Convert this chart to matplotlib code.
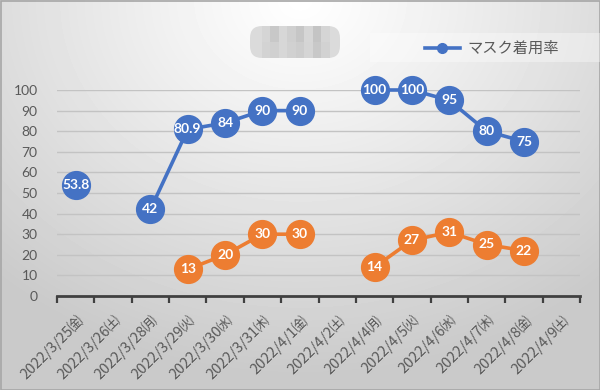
import numpy as np
import matplotlib
matplotlib.use("Agg")
import matplotlib.pyplot as plt
from matplotlib.lines import Line2D
from matplotlib.patches import Rectangle, FancyBboxPatch

plt.rcParams['font.family'] = ['Noto Sans CJK JP', 'DejaVu Sans']

# data
dates = ['2022/3/25㈮', '2022/3/26㈯', '2022/3/28㈪', '2022/3/29㈫', '2022/3/30㈬',
         '2022/3/31㈭', '2022/4/1㈮', '2022/4/2㈯', '2022/4/4㈪', '2022/4/5㈫',
         '2022/4/6㈬', '2022/4/7㈭', '2022/4/8㈮', '2022/4/9㈯']
mask_rate = [53.8, np.nan, 42, 80.9, 84, 90, 90, np.nan, 100, 100, 95, 80, 75, np.nan]
other_rate = [np.nan, np.nan, np.nan, 13, 20, 30, 30, np.nan, 14, 27, 31, 25, 22, np.nan]
yticks = [0, 10, 20, 30, 40, 50, 60, 70, 80, 90, 100]

blue = '#4472C4'
orange = '#ED7D31'
grey_txt = '#595959'

fig = plt.figure(figsize=(6, 3.9), dpi=100)

# gradient background (white top centre, grey edges)
bg = fig.add_axes([0, 0, 1, 1], zorder=-10)
yy, xx = np.mgrid[0:390, 0:600]
d = np.sqrt(((xx - 300) / 430.0) ** 2 + (yy / 360.0) ** 2)
v = np.clip(1 - 0.2 * d ** 1.1, 0.79, 1)
bg.imshow(v, cmap='gray', vmin=0, vmax=1, aspect='auto', extent=[0, 600, 390, 0])
bg.add_patch(Rectangle((0.5, 0.5), 599, 389, fill=False, ec='#a6a6a6', lw=1.2))
# lighter band behind the legend
bg.add_patch(Rectangle((370, 33), 230, 29, fc='white', alpha=0.35, lw=0))

# pixelated title
mosaic = np.array([[0.86, 0.60, 0.90, 0.74, 0.58, 0.88, 0.52, 0.86],
                   [0.82, 0.76, 0.90, 0.78, 0.70, 0.86, 0.60, 0.80]])
bg.add_patch(FancyBboxPatch((250, 26), 90, 32, boxstyle='round,pad=0,rounding_size=12',
                            fc='#d4d4d4', ec='none', alpha=0.8))
bg.imshow(mosaic, cmap='gray', vmin=0, vmax=1, extent=[262, 330, 58, 26],
          interpolation='nearest', aspect='auto')
bg.set_xlim(0, 600)
bg.set_ylim(390, 0)
bg.axis('off')

ax = fig.add_axes([57 / 600, 1 - 296 / 390, (580 - 57) / 600, (296 - 90) / 390])
ax.set_facecolor('none')
x = np.arange(len(dates))

ax.plot(x, mask_rate, color=blue, lw=2.6, marker='o', ms=20, mec=blue, mfc=blue,
        clip_on=False, zorder=3)
ax.plot(x, other_rate, color=orange, lw=2.6, marker='o', ms=20, mec=orange, mfc=orange,
        clip_on=False, zorder=3)

for xi, val in zip(x, mask_rate):
    if not np.isnan(val):
        ax.text(xi, val, f'{val:g}', color='white', fontsize=10, fontweight='bold',
                family='Lato', ha='center', va='center', zorder=4)
for xi, val in zip(x, other_rate):
    if not np.isnan(val):
        ax.text(xi, val, f'{val:g}', color='white', fontsize=10, fontweight='bold',
                family='Lato', ha='center', va='center', zorder=4)

ax.set_xlim(-0.5, len(dates) - 0.5)
ax.set_ylim(0, 100)
ax.set_yticks(yticks)
ax.set_yticklabels([str(t) for t in yticks], color=grey_txt, fontsize=10, family='Lato')
ax.tick_params(axis='y', length=0, pad=14)
for t in yticks[1:]:
    ax.axhline(t, color='#c3c3c3', lw=1, zorder=1)

ax.set_xticks(x)
ax.set_xticklabels(dates, rotation=45, ha='right', rotation_mode='anchor',
                   color=grey_txt, fontsize=10.5)
ax.tick_params(axis='x', which='major', length=0, pad=12)
ax.set_xticks(np.arange(-0.5, len(dates)), minor=True)
ax.tick_params(axis='x', which='minor', length=5, width=1.6, color='#404040', direction='out')

for s in ['top', 'right', 'left']:
    ax.spines[s].set_visible(False)
ax.spines['bottom'].set_color('#404040')
ax.spines['bottom'].set_linewidth(2)

handle = Line2D([], [], color=blue, lw=2.6, marker='o', ms=7)
fig.legend([handle], ['マスク着用率'], loc='center left', bbox_to_anchor=(0.685, 0.876),
           frameon=False, fontsize=11, handlelength=2.3, handletextpad=0.5,
           labelcolor=grey_txt)

fig.savefig('out.png', dpi=100)
